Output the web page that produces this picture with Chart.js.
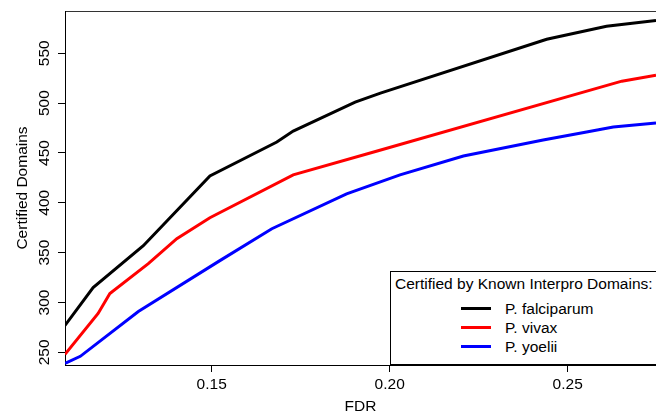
<!DOCTYPE html>
<html>
<head>
<meta charset="utf-8">
<script src="https://cdn.jsdelivr.net/npm/chart.js@4/dist/chart.umd.min.js"></script>
<style>
  html, body { margin: 0; padding: 0; background: #fff; overflow: hidden; }
  #wrap { position: relative; width: 656px; height: 417px; }
  #legend { position: absolute; left: 390px; top: 271px; width: 320px; height: 94px;
            border: 1px solid #000; box-sizing: border-box; background: #fff;
            font-family: "Liberation Sans", Arial, sans-serif; font-size: 15.5px; color: #000; }
  #legend .ttl { position: absolute; left: 4px; top: 3px; line-height: 18px; white-space: nowrap; }
  #legend .item { position: absolute; left: 70px; height: 18px; line-height: 18px; white-space: nowrap; }
  #legend .sw { display: inline-block; width: 30px; height: 3px; vertical-align: middle; margin-right: 14px; position: relative; top: -1px; }
</style>
</head>
<body>
<div id="wrap">
  <canvas id="c" width="656" height="417"></canvas>
  <div id="legend"></div>
</div>
<script>
// ---- data ----
const seriesNames = ["P. falciparum", "P. vivax", "P. yoelii"];
const seriesColors = ["#000000", "#ff0000", "#0000ff"];
const legendTitle = "Certified by Known Interpro Domains:";

const fdrFalciparum  = [0.1088, 0.1167, 0.1308, 0.1495, 0.1683, 0.1729, 0.1903, 0.1974, 0.2441, 0.2609, 0.2748];
const certFalciparum = [277,    315,    357,    427,    461,    472,    501,    510,    564,    577,    583];

const fdrVivax  = [0.1088, 0.1181, 0.1214, 0.1322, 0.1402, 0.1495, 0.1729, 0.1965, 0.2652, 0.2748];
const certVivax = [248,    289,    309,    339,    364,    385,    428,    452,    522,    528];

const fdrYoelii  = [0.1088, 0.1131, 0.1294, 0.1523, 0.1669, 0.1879, 0.2029, 0.2207, 0.2431, 0.2553, 0.2628, 0.2748];
const certYoelii = [239,    246,    291,    342,    374,    409,    428,    447,    463,    471,    476,    480];

const xTicks = [0.15, 0.20, 0.25];
const yTicks = [250, 300, 350, 400, 450, 500, 550];
const xTitle = "FDR";
const yTitle = "Certified Domains";

// ---- build chart ----
const pairs = (xs, ys) => xs.map((x, i) => ({ x: x, y: ys[i] }));
const allX = [fdrFalciparum, fdrVivax, fdrYoelii];
const allY = [certFalciparum, certVivax, certYoelii];

Chart.defaults.font.family = '"Liberation Sans", Arial, sans-serif';
Chart.defaults.font.size = 15.5;
Chart.defaults.color = '#000';

const X_MIN = 0.1088, X_MAX = 0.2748, Y_MIN = 237.3, Y_MAX = 592.4;

new Chart(document.getElementById('c'), {
  type: 'line',
  data: {
    datasets: seriesNames.map((n, i) => ({
      label: n,
      data: pairs(allX[i], allY[i]),
      borderColor: seriesColors[i],
      backgroundColor: seriesColors[i],
      borderWidth: 3,
      pointRadius: 0,
      tension: 0,
      fill: false
    }))
  },
  options: {
    responsive: false,
    animation: false,
    devicePixelRatio: 1,
    layout: { padding: { top: 11, right: 0, bottom: 0, left: 0 } },
    plugins: { legend: { display: false }, tooltip: { enabled: false } },
    scales: {
      x: {
        type: 'linear', position: 'bottom', min: X_MIN, max: X_MAX,
        afterBuildTicks: s => { s.ticks = xTicks.map(v => ({ value: v })); },
        afterFit: s => { s.height = 52; },
        ticks: { autoSkip: false, maxRotation: 0, padding: 3,
                 callback: v => v.toFixed(2) },
        grid: { display: true, drawOnChartArea: false, drawTicks: true, tickLength: 7, tickColor: '#000', tickWidth: 1 },
        border: { display: true, color: '#000', width: 1 },
        title: { display: true, text: xTitle, padding: { top: 0, bottom: 1 } }
      },
      xTop: {
        type: 'linear', position: 'top', min: X_MIN, max: X_MAX,
        afterFit: s => { s.height = 0; },
        ticks: { display: false },
        grid: { display: false },
        border: { display: true, color: '#333', width: 1 }
      },
      y: {
        type: 'linear', position: 'left', min: Y_MIN, max: Y_MAX,
        afterBuildTicks: s => { s.ticks = yTicks.map(v => ({ value: v })); },
        afterFit: s => { s.width = 65; },
        ticks: { autoSkip: false, minRotation: 90, maxRotation: 90, crossAlign: 'center', padding: 0 },
        grid: { display: true, drawOnChartArea: false, drawTicks: true, tickLength: 7, tickColor: '#000', tickWidth: 1 },
        border: { display: true, color: '#000', width: 1 },
        title: { display: true, text: yTitle, padding: { top: 13, bottom: 0 } }
      }
    }
  }
});

// ---- legend (HTML text) ----
const lg = document.getElementById('legend');
const t = document.createElement('div');
t.className = 'ttl'; t.textContent = legendTitle; lg.appendChild(t);
seriesNames.forEach((n, i) => {
  const d = document.createElement('div');
  d.className = 'item';
  d.style.top = (28 + i * 19) + 'px';
  const sw = document.createElement('span');
  sw.className = 'sw'; sw.style.background = seriesColors[i];
  d.appendChild(sw);
  d.appendChild(document.createTextNode(n));
  lg.appendChild(d);
});
</script>
</body>
</html>
